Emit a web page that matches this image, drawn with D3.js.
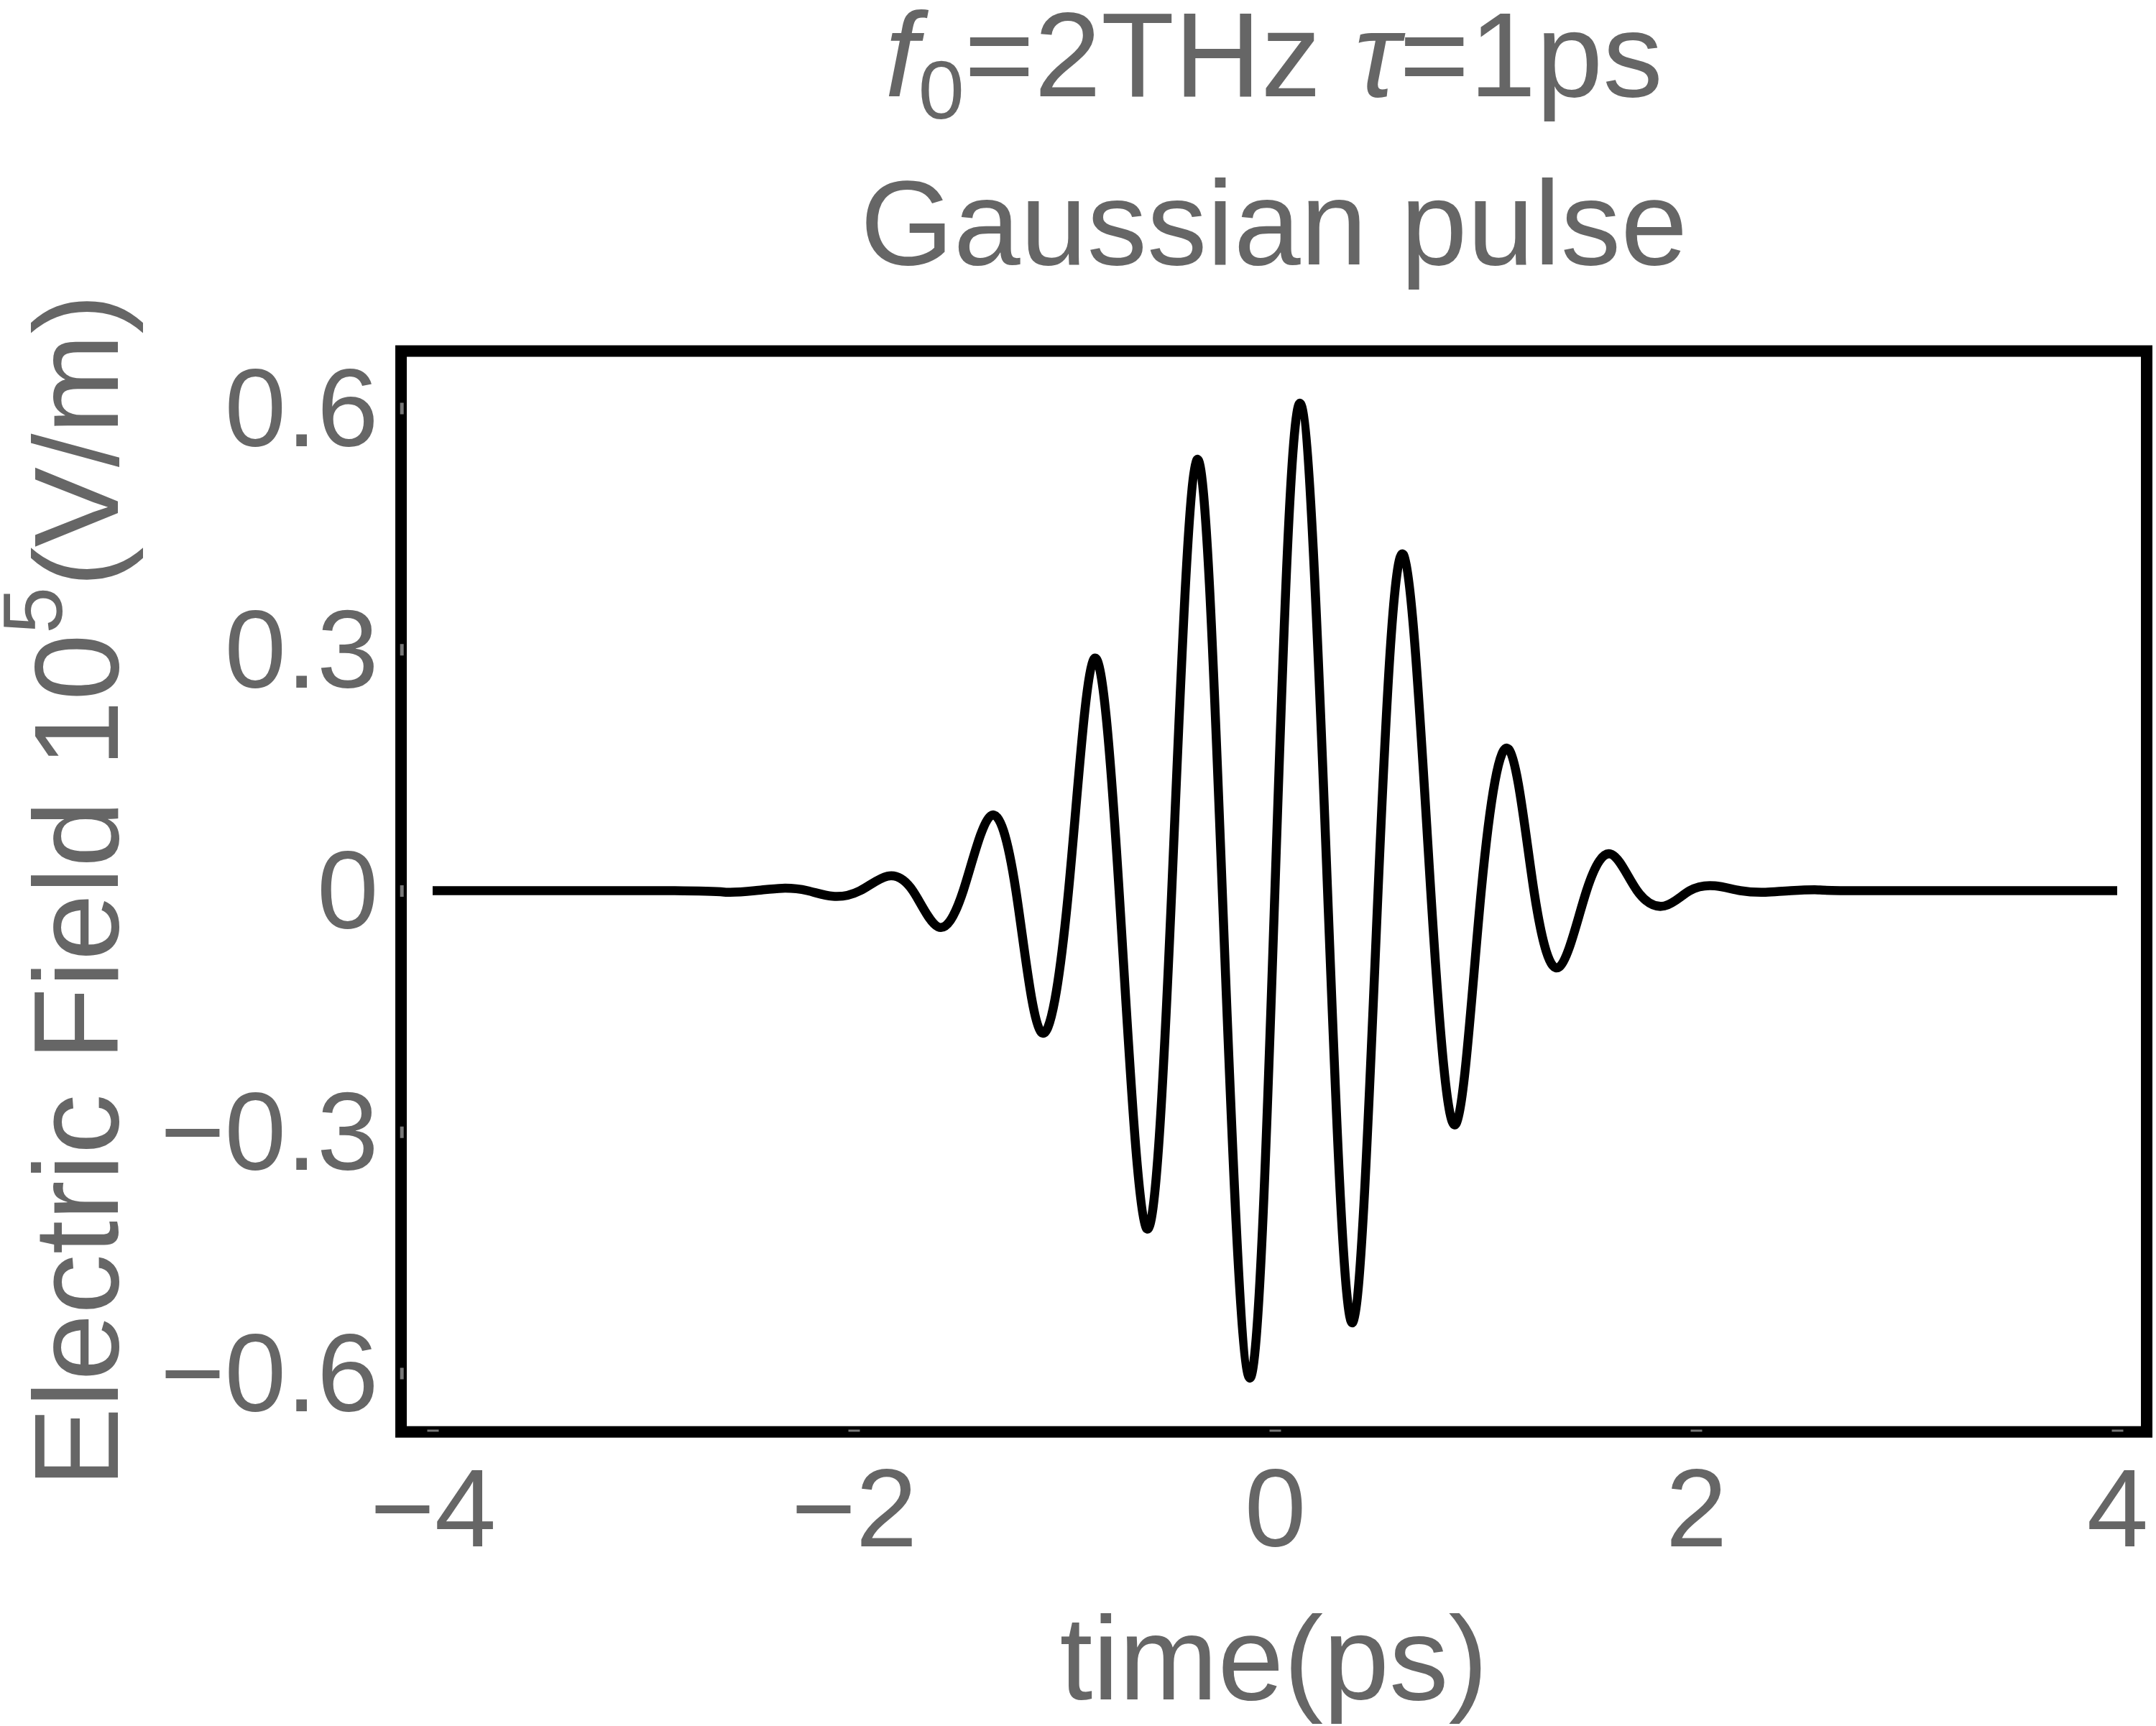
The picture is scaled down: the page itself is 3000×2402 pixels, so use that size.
<!DOCTYPE html>
<html>
<head>
<meta charset="utf-8">
<title>Gaussian pulse</title>
<script src="https://d3js.org/d3.v7.min.js"></script>
<style>
  body { margin: 0; background: #fff; }
  text { font-family: "Liberation Sans", Arial, sans-serif; fill: #666; }
</style>
</head>
<body>
<script>
// values: extrema and zero crossings of the pulse
var time  = [-4, -2.85, -2.6, -2.47, -2.34, -2.22, -2.10, -1.97, -1.84, -1.72, -1.60, -1.48,
             -1.35, -1.23, -1.11, -0.98, -0.86, -0.74, -0.61, -0.49, -0.37, -0.25, -0.12, 0,
             0.12, 0.25, 0.37, 0.49, 0.61, 0.74, 0.86, 0.98, 1.11, 1.23, 1.35, 1.48,
             1.60, 1.72, 1.85, 1.97, 2.09, 2.21, 2.33, 2.45, 2.58, 2.8, 4];
var field = [0, 0, -0.002, 0, 0.003, 0, -0.007, 0, 0.018, 0, -0.045, 0,
             0.093, 0, -0.176, 0, 0.288, 0, -0.420, 0, 0.536, 0, -0.606, 0,
             0.606, 0, -0.537, 0, 0.418, 0, -0.290, 0, 0.176, 0, -0.095, 0,
             0.045, 0, -0.019, 0, 0.006, 0, -0.002, 0, 0.001, 0, 0];
var xTicks = [-4, -2, 0, 2, 4];
var yTicks = [-0.6, -0.3, 0, 0.3, 0.6];

var width = 3000, height = 2402;
var svg = d3.select("body").append("svg").attr("width", width).attr("height", height);

var x = d3.scaleLinear().domain([-4, 4]).range([602, 2946]);
var y = d3.scaleLinear().domain([-0.6, 0.6]).range([1911, 568]);

var minus = function(v) { return v < 0 ? "\u2212" + Math.abs(v) : String(v); };

// frame
svg.append("rect")
  .attr("x", x(-4.15)).attr("y", y(0.671))
  .attr("width", x(4.14) - x(-4.15)).attr("height", y(-0.673) - y(0.671))
  .attr("fill", "none").attr("stroke", "#000").attr("stroke-width", 16);

// curve
var data = time.map(function(t, i) { return [t, field[i]]; });
svg.append("path")
  .datum(data)
  .attr("d", d3.line().x(function(d) { return x(d[0]); }).y(function(d) { return y(d[1]); }).curve(d3.curveNatural))
  .attr("fill", "none").attr("stroke", "#000").attr("stroke-width", 12.5);

// axes (short gray ticks sitting on the frame)
var gx = svg.append("g").attr("transform", "translate(0," + 1992.5 + ")")
  .call(d3.axisBottom(x).tickValues(xTicks).tickFormat(minus).tickSizeInner(-3).tickSizeOuter(0).tickPadding(50));
var gy = svg.append("g").attr("transform", "translate(" + 556.7 + ",0)")
  .call(d3.axisLeft(y).tickValues(yTicks).tickFormat(minus).tickSizeInner(-5).tickSizeOuter(0).tickPadding(30));
[gx, gy].forEach(function(g) {
  g.select(".domain").remove();
  g.selectAll(".tick text").attr("font-size", 154).attr("fill", "#666")
    .attr("font-family", "Liberation Sans, Arial, sans-serif");
});
gx.selectAll(".tick line").attr("stroke", "#777").attr("stroke-width", 16);
gy.selectAll(".tick line").attr("stroke", "#777").attr("stroke-width", 16);
gy.selectAll(".tick text").attr("dy", "0.34em");

// titles
var cx = (x(-4.15) + x(4.14)) / 2;
var t1 = svg.append("text").attr("x", cx).attr("y", 134).attr("text-anchor", "middle").attr("font-size", 167);
t1.append("tspan").attr("font-style", "italic").text("f");
t1.append("tspan").attr("font-size", 115).attr("dy", 31).text("0");
t1.append("tspan").attr("dy", -31).text("=2THz ");
t1.append("tspan").attr("font-style", "italic").text("\u03c4");
t1.append("tspan").text("=1ps");

svg.append("text").attr("x", cx).attr("y", 368).attr("text-anchor", "middle")
  .attr("font-size", 167).text("Gaussian pulse");

// axis labels
svg.append("text").attr("x", cx).attr("y", 2365).attr("text-anchor", "middle")
  .attr("font-size", 165).text("time(ps)");

var yl = svg.append("text")
  .attr("transform", "translate(164," + y(0) + ") rotate(-90)")
  .attr("text-anchor", "middle").attr("font-size", 167);
yl.append("tspan").text("Electric Field 10");
yl.append("tspan").attr("font-size", 117).attr("dy", -78).text("5");
yl.append("tspan").attr("dy", 78).text("(V/m)");
</script>
</body>
</html>
